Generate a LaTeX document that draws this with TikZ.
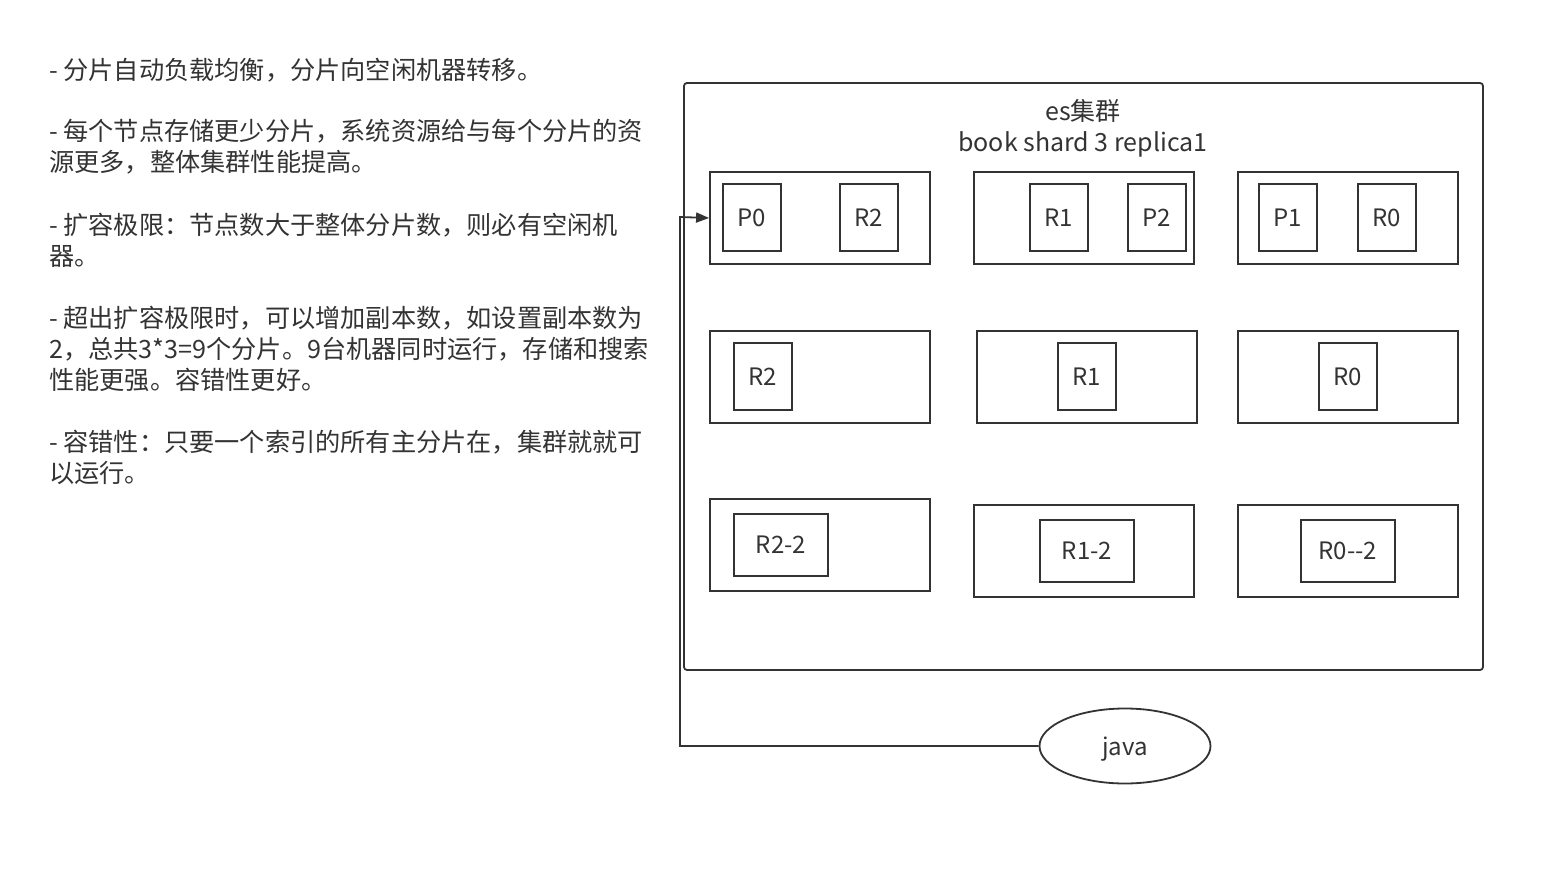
\documentclass[tikz,border=0pt]{standalone}
\usepackage{fontspec}
\setmainfont{Noto Sans CJK SC}
\usetikzlibrary{shapes.geometric,arrows.meta}
\definecolor{ink}{HTML}{333333}
\tikzset{
  x=1pt,y=-1pt,
  txt/.style={anchor=west,inner sep=0,text=ink,font=\fontsize{25.2}{31}\selectfont},
  host/.style={draw=ink,line width=1.8pt,rectangle,inner sep=0,minimum width=220,minimum height=92},
  shard/.style={draw=ink,line width=1.8pt,rectangle,inner sep=0,minimum width=58,minimum height=67,text=ink,font=\fontsize{24}{28}\selectfont},
  wshard/.style={shard,minimum width=94,minimum height=62},
  conn/.style={draw=ink,line width=1.8pt}
}
\begin{document}
\begin{tikzpicture}
\useasboundingbox (0,0) rectangle (1545,882);
% left text
\node[txt] (t1) at (49,70) {- 分片自动负载均衡，分片向空闲机器转移。};
\node[txt] (t2) at (49,131) {- 每个节点存储更少分片，系统资源给与每个分片的资};
\node[txt] (t3) at (49,162) {源更多，整体集群性能提高。};
\node[txt] (t4) at (49,225) {- 扩容极限：节点数大于整体分片数，则必有空闲机};
\node[txt] (t5) at (49,256) {器。};
\node[txt] (t6) at (49,318) {- 超出扩容极限时，可以增加副本数，如设置副本数为};
\node[txt] (t7) at (49,349) {2，总共3*3=9个分片。9台机器同时运行，存储和搜索};
\node[txt] (t8) at (49,380) {性能更强。容错性更好。};
\node[txt] (t9) at (49,442) {- 容错性：只要一个索引的所有主分片在，集群就就可};
\node[txt] (t10) at (49,473) {以运行。};
% cluster
\draw[draw=ink,line width=1.8pt,rounded corners=3pt] (684,83) rectangle (1483,670);
\node[inner sep=0,text=ink,font=\fontsize{25}{31}\selectfont,align=center] (title) at (1083,128.5) {es集群\\book shard 3 replica1};
% row 1
\node[host] (h1) at (820,218) {};
\node[host] (h2) at (1084,218) {};
\node[host] (h3) at (1348,218) {};
\node[shard] (p0) at (752,217.5) {P0};
\node[shard] (r2a) at (869,217.5) {R2};
\node[shard] (r1a) at (1059,217.5) {R1};
\node[shard] (p2) at (1157,217.5) {P2};
\node[shard] (p1) at (1288,217.5) {P1};
\node[shard] (r0a) at (1387,217.5) {R0};
% row 2
\node[host] (h4) at (820,377) {};
\node[host] (h5) at (1087,377) {};
\node[host] (h6) at (1348,377) {};
\node[shard] (r2b) at (763,376.5) {R2};
\node[shard] (r1b) at (1087,376.5) {R1};
\node[shard] (r0b) at (1348,376.5) {R0};
% row 3
\node[host] (h7) at (820,545) {};
\node[host] (h8) at (1084,551) {};
\node[host] (h9) at (1348,551) {};
\node[wshard] (r22) at (781,545) {R2-2};
\node[wshard] (r12) at (1087,551) {R1-2};
\node[wshard] (r02) at (1348,551) {R0{-}{-}2};
% java
\node[ellipse,draw=ink,line width=1.8pt,minimum width=171,minimum height=75,inner sep=0,
  label={[text=ink,font=\fontsize{24}{28}\selectfont,inner sep=0,yshift=-3pt]center:java}] (java) at (1125,746) {};
\coordinate (c1) at (680,746);
\coordinate (c2) at (680,217);
\draw[conn,-{Triangle[length=13pt,width=10pt]}] (java.west) -- (c1) -- (c2) -- (h1.west);
\end{tikzpicture}
\end{document}
